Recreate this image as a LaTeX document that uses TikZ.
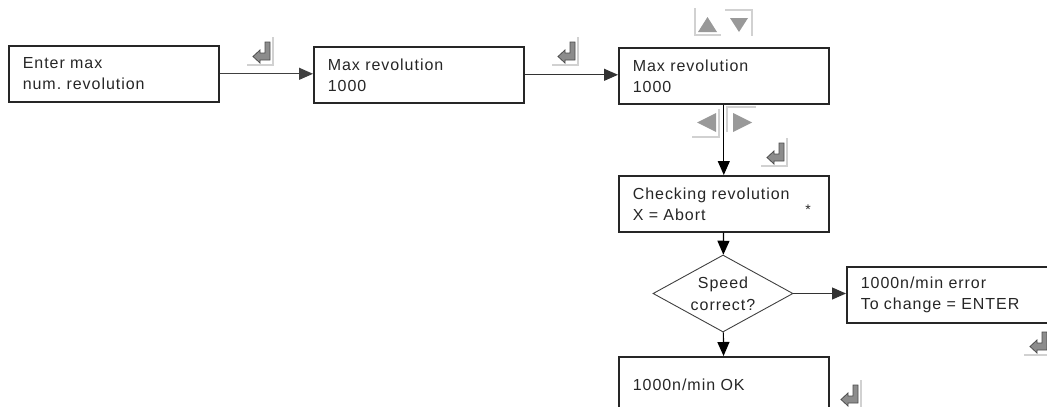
\documentclass[tikz,border=0pt]{standalone}
\usepackage{fontspec}
\setmainfont{Liberation Sans}[LetterSpace=6]
\usetikzlibrary{shapes.geometric,arrows.meta}
\frenchspacing

\tikzset{
  lcd/.style={draw=black!85, line width=1.6pt, rectangle, minimum width=210pt,
    minimum height=56pt, text width=182pt, align=left, inner sep=0pt,
    anchor=north west, font=\fontsize{16}{21}\selectfont, text=black!85},
  decide/.style={draw=black!75, line width=0.9pt, diamond, aspect=1.82,
    minimum width=140pt, minimum height=77pt, inner sep=0pt, align=center,
    font=\fontsize{16}{22}\selectfont, text=black!85},
  flow/.style={line width=1.2pt, -{Triangle[length=14pt,width=12pt]}},
  bevel/.style={draw=black!18, line width=1.2pt},
  keygray/.style={fill=black!45, draw=black!70, line width=0.8pt},
  btn/.style={fill=black!40, draw=none},
  enterkey/.pic={
    \draw[bevel] (21,-1) -- (21,27) -- (-5,27);
    \filldraw[keygray] (13,4) -- (18,4) -- (18,22) -- (8,22) -- (8,25) -- (1,18.5)
      -- (8,12) -- (8,15) -- (13,15) -- cycle;
  }
}

\begin{document}
\begin{tikzpicture}[x=1pt,y=-1pt]
\useasboundingbox (0,0) rectangle (1047,407);
\clip (0,0) rectangle (1047,407);

% displays
\node[lcd] (enter) at (8,45) {Enter max\\num. revolution};
\node[lcd] (maxrev) at (313,46) {Max revolution\\1000};
\node[lcd] (setrev) at (618,47) {Max revolution\\1000};
\node[lcd] (check) at (618,175) {Checking revolution\\X = Abort};
\node[font=\fontsize{14}{14}\selectfont, text=black!85] (star) at (808,210) {*};
\node[decide] (speed) at (723,293.5) {Speed\\correct?};
\node[lcd] (error) at (846,266) {1000n/min error\\To change = ENTER};
\node[lcd] (ok) at (618,356) {1000n/min OK};

% connectors
\draw[flow, black!75] (enter.east) -- (enter.east -| maxrev.west);
\draw[flow, black!80] (maxrev.east) -- (maxrev.east -| setrev.west);
\draw[flow] (setrev) -- (check);
\draw[flow] (check) -- (speed);
\draw[flow] (speed) -- (ok);
\draw[flow, black!80] (speed.east) -- (speed.east -| error.west);

% enter keys
\pic at (252,38) {enterkey};
\pic at (557,38) {enterkey};
\pic at (766,139) {enterkey};
\pic at (1029,328) {enterkey};
\pic at (840,381) {enterkey};

% up / down keys
\draw[bevel] (695,8) -- (695,35) -- (721,35);
\fill[btn] (698,32) -- (717,32) -- (707.5,17) -- cycle;
\draw[bevel] (725,10) -- (752,10) -- (752,36);
\fill[btn] (730,18) -- (748,18) -- (739,32) -- cycle;

% left / right keys
\draw[bevel] (692,137) -- (719,137) -- (719,109);
\fill[btn] (697,122.5) -- (716,113) -- (716,132) -- cycle;
\draw[bevel] (727,132) -- (727,107) -- (756,107);
\fill[btn] (733,113) -- (733,132) -- (752,122.5) -- cycle;

\end{tikzpicture}
\end{document}
